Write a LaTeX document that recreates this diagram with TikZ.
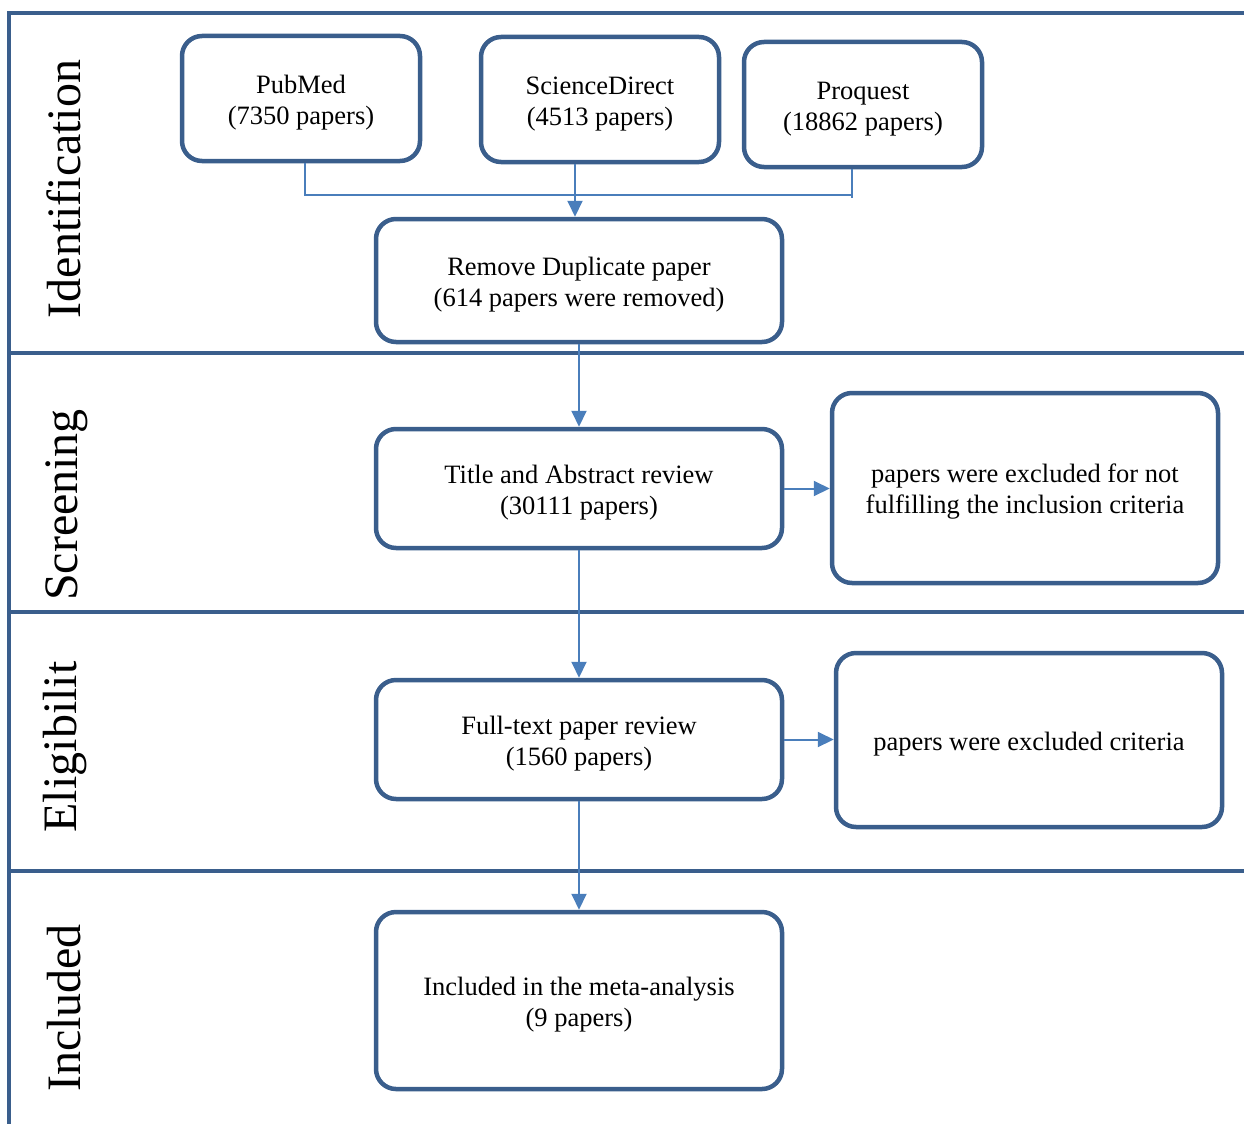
\documentclass[tikz,border=0pt]{standalone}
\usepackage{fontspec}
\setmainfont{Liberation Serif}
\usetikzlibrary{arrows.meta}
\definecolor{frame}{HTML}{3A5E8C}
\definecolor{conn}{HTML}{4A7EBB}
\newcommand{\topstrut}{\rule{0pt}{26pt}}
\tikzset{
  x=1pt,y=-1pt,
  framel/.style={draw=frame,line width=4.5pt},
  box/.style={draw=frame,line width=4.5pt,rounded corners=20pt,align=center,
    font=\fontsize{26.5}{31}\selectfont,inner sep=0pt},
  lane/.style={rotate=90,font=\fontsize{48}{52}\selectfont,inner sep=0pt},
  connl/.style={draw=conn,line width=2pt},
  arr/.style={connl,-{Triangle[length=16pt,width=15pt]}},
}
\begin{document}
\begin{tikzpicture}
\useasboundingbox (0,0) rectangle (1244,1124);
% frame
\draw[framel] (1244,13) -- (9,13) -- (9,1124);
\draw[framel] (9,353) -- (1244,353);
\draw[framel] (9,612) -- (1244,612);
\draw[framel] (9,871) -- (1244,871);
% lane labels
\node[lane] (lid) at (64,189) {Identification};
\node[lane] (lsc) at (67,505) {Screening};
\node[lane] (lel) at (65,747) {Eligibilit};
\node[lane] (lin) at (64,1008) {Included};
% boxes
\node[box,minimum width=238,minimum height=125] (pub) at (301,98.5) {\topstrut PubMed\\(7350 papers)};
\node[box,minimum width=238,minimum height=125] (sd) at (600,99.5) {\topstrut ScienceDirect\\(4513 papers)};
\node[box,minimum width=238,minimum height=125] (prq) at (863,104.5) {\topstrut Proquest\\(18862 papers)};
\node[box,minimum width=406,minimum height=123] (rem) at (579,280.5) {\topstrut Remove Duplicate paper\\(614 papers were removed)};
\node[box,minimum width=406,minimum height=119] (tit) at (579,488.5) {\topstrut Title and Abstract review\\(30111 papers)};
\node[box,minimum width=386,minimum height=190] (ex1) at (1025,488) {\topstrut papers were excluded for not\\fulfilling the inclusion criteria};
\node[box,minimum width=406,minimum height=119] (ful) at (579,739.5) {\topstrut Full-text paper review\\(1560 papers)};
\node[box,minimum width=386,minimum height=174] (ex2) at (1029,740) {\topstrut papers were excluded criteria};
\node[box,minimum width=406,minimum height=177] (inc) at (579,1000.5) {\topstrut Included in the meta-analysis\\(9 papers)};
% connectors
\coordinate (jl) at (305,195);
\coordinate (jr) at (852,195);
\coordinate (jre) at (852,198);
\draw[connl] ([xshift=4pt]pub.south) -- (jl) -- (jr) -- ([xshift=-11pt]prq.south);
\draw[connl] (jr) -- (jre);
\draw[arr] ([xshift=-25pt]sd.south) -- ([xshift=-4pt]rem.north);
\draw[arr] (rem.south) -- (tit.north);
\draw[arr] (tit.south) -- (ful.north);
\draw[arr] (ful.south) -- (inc.north);
\draw[arr] (tit.east) -- (tit.east -| ex1.west);
\draw[arr] (ful.east) -- (ful.east -| ex2.west);
\end{tikzpicture}
\end{document}
